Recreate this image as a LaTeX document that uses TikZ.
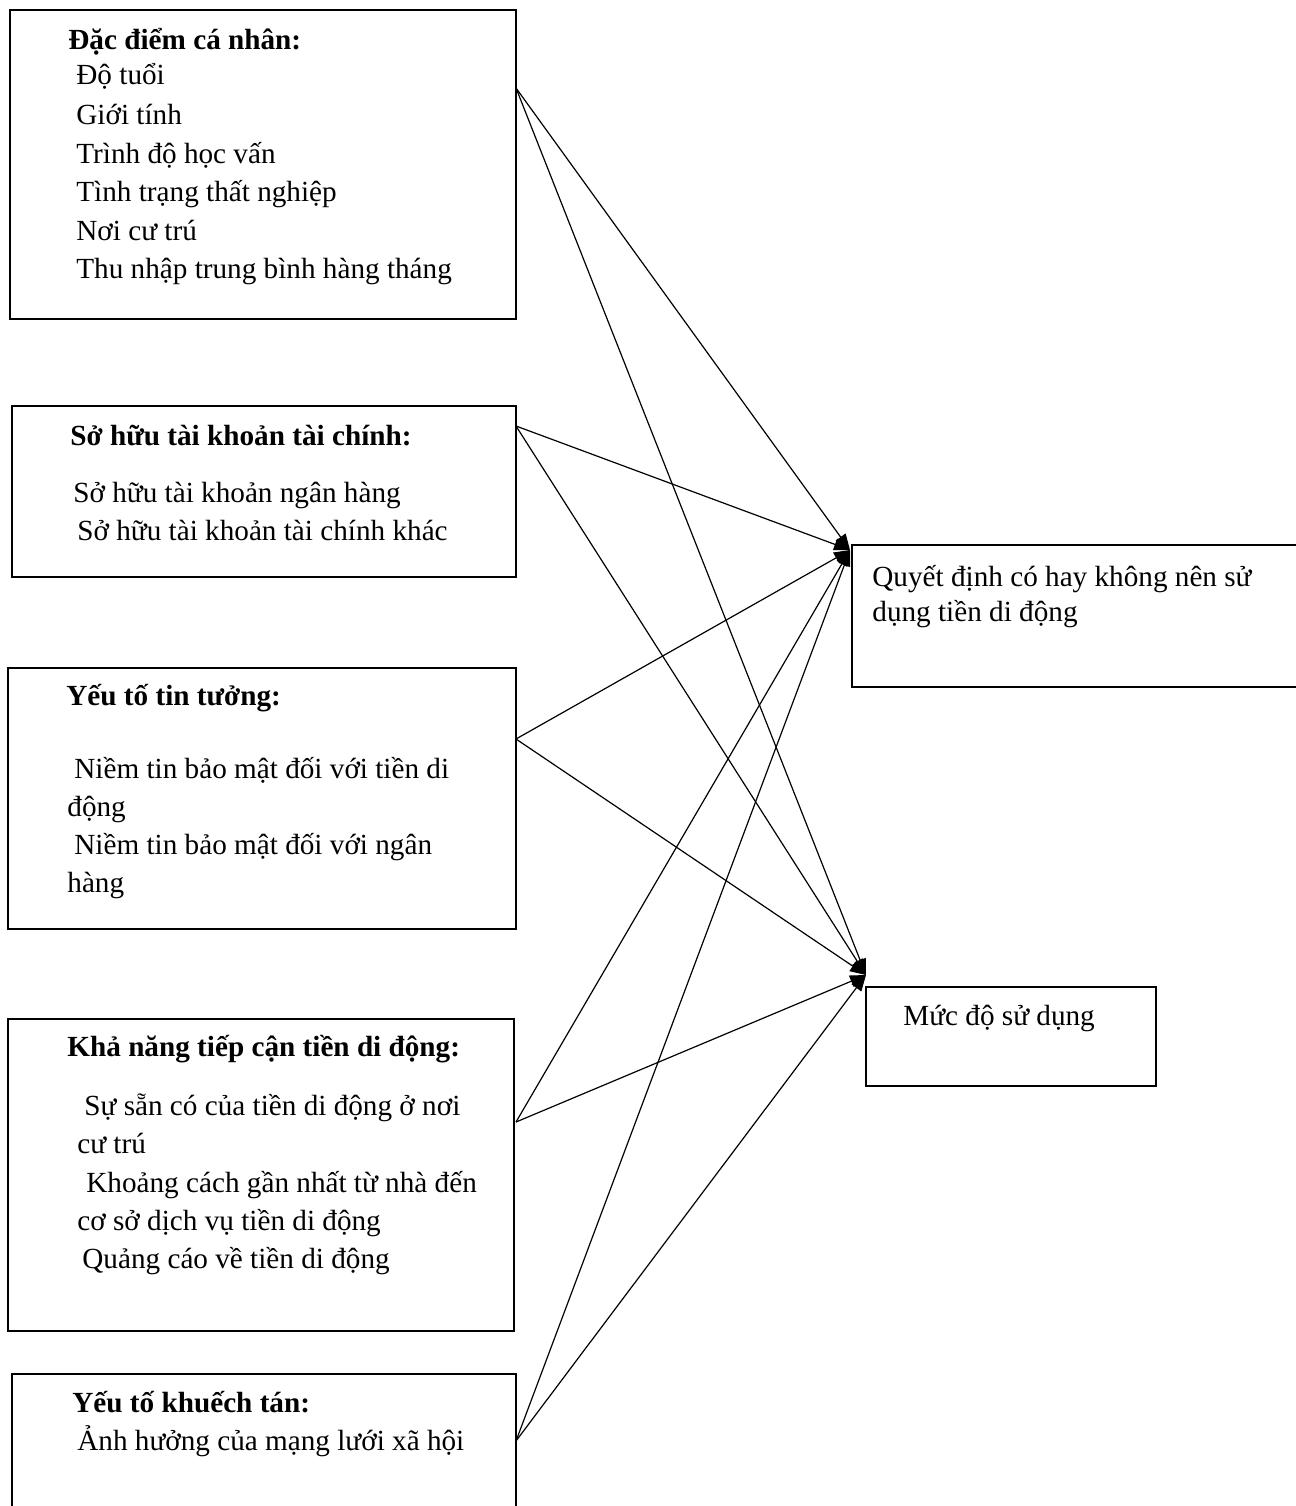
\documentclass[tikz,border=0pt]{standalone}
\usepackage{fontspec}
\setmainfont{Liberation Serif}
\usetikzlibrary{arrows.meta}

\begin{document}
\begin{tikzpicture}[x=0.5pt, y=-0.5pt,
    box/.style={draw, line width=0.7pt, anchor=north west, inner sep=0pt, outer sep=0pt},
    txt/.style={anchor=base west, inner sep=0pt, font=\fontsize{14.6}{19.4}\selectfont},
    head/.style={txt, font=\fontsize{14.6}{19.4}\selectfont\bfseries},
    arr/.style={line width=0.6pt, -{Triangle[length=8pt,width=6pt]}}]
    \useasboundingbox (0,0) rectangle (1296,1506);
    % Draw the boxes
    \node[box, minimum width=253pt, minimum height=154.5pt] (boxA) at (10,10) {};
    \node[box, minimum width=252pt, minimum height=85.5pt] (boxB) at (12,406) {};
    \node[box, minimum width=254pt, minimum height=130.5pt] (boxC) at (8,668) {};
    \node[box, minimum width=253pt, minimum height=156pt] (boxD) at (8,1019) {};
    \node[box, minimum width=252pt, minimum height=73pt] (boxE) at (12,1374) {};
    \node[box, minimum width=229pt, minimum height=71pt] (boxQ) at (852,545) {};
    \node[box, minimum width=145pt, minimum height=49.5pt] (boxM) at (866,987) {};
    % Headings
    \node[head] (headA) at (68,49) {Đặc điểm cá nhân:};
    \node[head] (headB) at (70,445) {Sở hữu tài khoản tài chính:};
    \node[head] (headC) at (66,705) {Yếu tố tin tưởng:};
    \node[head] (headD) at (67,1056) {Khả năng tiếp cận tiền di động:};
    \node[head] (headE) at (72,1412) {Yếu tố khuếch tán:};
    % Items in the boxes
    \foreach \n/\x/\y/\t in {a1/76/84/{Độ tuổi}, a2/76/124/{Giới tính},
        a3/76/163/{Trình độ học vấn}, a4/76/201/{Tình trạng thất nghiệp},
        a5/76/240/{Nơi cư trú}, a6/76/278/{Thu nhập trung bình hàng tháng},
        b1/73/502/{Sở hữu tài khoản ngân hàng}, b2/77/540/{Sở hữu tài khoản tài chính khác},
        c1/74/778/{Niềm tin bảo mật đối với tiền di}, c2/67/816/{động},
        c3/74/854/{Niềm tin bảo mật đối với ngân}, c4/67/892/{hàng},
        d1/84/1115/{Sự sẵn có của tiền di động ở nơi}, d2/77/1153/{cư trú},
        d3/86/1192/{Khoảng cách gần nhất từ nhà đến}, d4/77/1230/{cơ sở dịch vụ tiền di động},
        d5/82/1268/{Quảng cáo về tiền di động},
        e1/77/1450/{Ảnh hưởng của mạng lưới xã hội},
        q1/872/586/{Quyết định có hay không nên sử}, q2/872/621/{dụng tiền di động},
        m1/903/1025/{Mức độ sử dụng}} {
        \node[txt] (item-\n) at (\x,\y) {\t};
    }
    % Arrow ends
    \foreach \n/\y in {a/88, b/426, c/739, d/1122, e/1441}
        \coordinate (out-\n) at (516,\y);
    \coordinate (in-q) at (850,550);
    \coordinate (in-m) at (866,975);
    % Draw the arrows
    \foreach \n in {a,b,c,d,e} {
        \draw[arr] (out-\n) -- (in-q);
        \draw[arr] (out-\n) -- (in-m);
    }
\end{tikzpicture}
\end{document}
